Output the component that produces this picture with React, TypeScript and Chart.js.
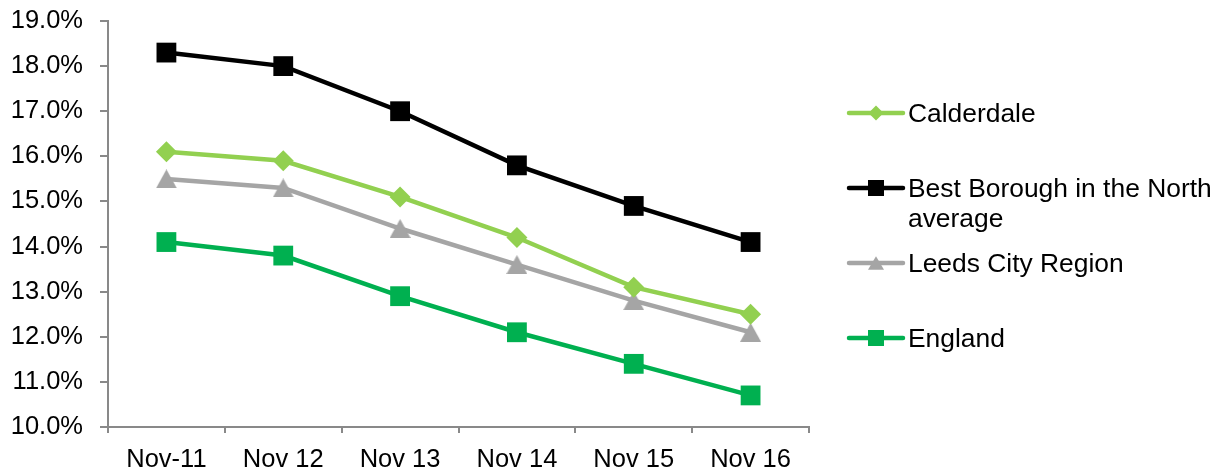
import React, { useEffect, useRef } from 'react';
import { Chart, registerables } from 'chart.js';

Chart.register(...registerables);

const categories = ['Nov-11', 'Nov 12', 'Nov 13', 'Nov 14', 'Nov 15', 'Nov 16'];
const seriesNames = ['Calderdale', 'Best Borough in the North average', 'Leeds City Region', 'England'];
const legendLines = [['Calderdale'], ['Best Borough in the North', 'average'], ['Leeds City Region'], ['England']];
const calderdale = [16.1, 15.9, 15.1, 14.2, 13.1, 12.5];
const bestBorough = [18.3, 18.0, 17.0, 15.8, 14.9, 14.1];
const leedsCityRegion = [15.5, 15.3, 14.4, 13.6, 12.8, 12.1];
const england = [14.1, 13.8, 12.9, 12.1, 11.4, 10.7];
const yMin = 10;
const yMax = 19;
const yStep = 1;

const colors = ['#92D050', '#000000', '#A5A5A5', '#00B050'];
const markers = ['diamond', 'square', 'triangle', 'square'];
const FONT = '"Liberation Sans", Arial, Helvetica, sans-serif';

function makeTriangle(w: number, h: number, color: string) {
  const c = document.createElement('canvas');
  c.width = w;
  c.height = h;
  const ctx = c.getContext('2d')!;
  ctx.fillStyle = color;
  ctx.beginPath();
  ctx.moveTo(w / 2, 0);
  ctx.lineTo(w, h);
  ctx.lineTo(0, h);
  ctx.closePath();
  ctx.fill();
  return c;
}

function drawMarker(ctx: CanvasRenderingContext2D, kind: string, x: number, y: number, s: number, color: string) {
  ctx.fillStyle = color;
  ctx.beginPath();
  if (kind === 'square') {
    ctx.rect(x - s / 2, y - s / 2, s, s);
  } else if (kind === 'diamond') {
    ctx.moveTo(x, y - s / 2);
    ctx.lineTo(x + s / 2, y);
    ctx.lineTo(x, y + s / 2);
    ctx.lineTo(x - s / 2, y);
    ctx.closePath();
  } else {
    ctx.moveTo(x, y - s * 0.42);
    ctx.lineTo(x + s / 2, y + s * 0.42);
    ctx.lineTo(x - s / 2, y + s * 0.42);
    ctx.closePath();
  }
  ctx.fill();
}

const sideLegend = {
  id: 'sideLegend',
  afterDraw(chart: any) {
    const ctx: CanvasRenderingContext2D = chart.ctx;
    const right = chart.chartArea.right;
    ctx.save();
    ctx.font = '26.4px ' + FONT;
    ctx.textBaseline = 'alphabetic';
    ctx.textAlign = 'left';
    let base = 122;
    chart.data.datasets.forEach((ds: any, i: number) => {
      const cy = base - 9;
      const x0 = right + 40;
      const x1 = right + 94;
      ctx.strokeStyle = colors[i];
      ctx.lineWidth = 4.5;
      ctx.lineCap = 'round';
      ctx.beginPath();
      ctx.moveTo(x0, cy);
      ctx.lineTo(x1, cy);
      ctx.stroke();
      drawMarker(ctx, markers[i], (x0 + x1) / 2, cy, markers[i] === 'diamond' ? 15 : 16, colors[i]);
      ctx.fillStyle = '#000';
      legendLines[i].forEach((t, j) => {
        ctx.fillText(t, right + 99, base + j * 29.5);
      });
      base += 75;
    });
    ctx.restore();
  },
};

export default function App() {
  const ref = useRef<HTMLCanvasElement>(null);
  useEffect(() => {
    const tri = makeTriangle(21, 19, colors[2]);
    const seriesData = [calderdale, bestBorough, leedsCityRegion, england];
    const pointStyles: any[] = ['rectRot', 'rect', tri, 'rect'];
    const radii = [10.5, 14, 10, 14];
    const chart = new Chart(ref.current!, {
      type: 'line',
      data: {
        labels: categories,
        datasets: seriesData.map((d, i) => ({
          label: seriesNames[i],
          data: d,
          borderColor: colors[i],
          backgroundColor: colors[i],
          borderWidth: 4.5,
          pointStyle: pointStyles[i],
          pointRadius: radii[i],
          pointBorderWidth: 0,
          pointBackgroundColor: colors[i],
          pointBorderColor: colors[i],
          tension: 0,
        })),
      },
      plugins: [sideLegend],
      options: {
        animation: false,
        responsive: true,
        maintainAspectRatio: false,
        layout: { padding: { left: 0, right: 409, top: 21, bottom: 0 } },
        plugins: { legend: { display: false }, tooltip: { enabled: false } },
        scales: {
          x: {
            type: 'category',
            offset: true,
            grid: {
              offset: true,
              drawOnChartArea: false,
              drawTicks: true,
              tickLength: 6,
              color: '#898989',
              lineWidth: 2,
            },
            border: { color: '#898989', width: 2 },
            ticks: { color: '#000', font: { family: FONT, size: 25.5 }, padding: 12, maxRotation: 0 },
            afterFit: (s: any) => { s.height = 45; s.paddingLeft = 0; s.paddingRight = 0; },
          },
          y: {
            min: yMin,
            max: yMax,
            grid: {
              drawOnChartArea: false,
              drawTicks: true,
              tickLength: 8,
              color: '#898989',
              lineWidth: 2,
            },
            border: { color: '#898989', width: 2 },
            ticks: {
              stepSize: yStep,
              color: '#000',
              font: { family: FONT, size: 25.5 },
              padding: 17,
              callback: (v: any) => Number(v).toFixed(1) + '%',
            },
            afterFit: (s: any) => { s.width = 108; s.paddingTop = 0; s.paddingBottom = 0; },
          },
        },
      },
    });
    return () => chart.destroy();
  }, []);
  return (
    <div style={{ position: 'absolute', left: 0, top: 0, width: 1218, height: 472, background: '#fff' }}>
      <canvas ref={ref} />
    </div>
  );
}
